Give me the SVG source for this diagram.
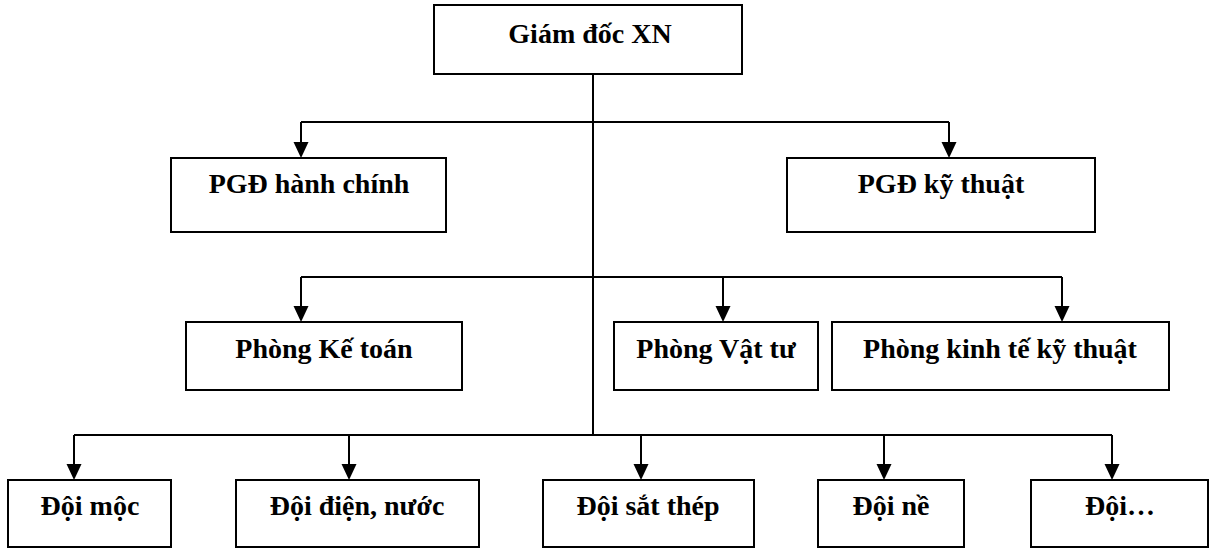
<svg xmlns="http://www.w3.org/2000/svg" width="1210" height="548" viewBox="0 0 1210 548">
<style>
.box{fill:#fff;stroke:#000;stroke-width:2}
.lbl{font-family:"Liberation Serif","Times New Roman",serif;font-weight:bold;font-size:28px;fill:#000;text-anchor:middle}
.ln{fill:none;stroke:#000;stroke-width:2}
</style>
<rect width="1210" height="548" fill="#fff"/>
<g id="connectors">
<path class="ln" d="M593,74 V435"/>
<path class="ln" d="M301,122 H949"/>
<path class="ln" d="M301,277 H1062"/>
<path class="ln" d="M74,435 H1112"/>
<g fill="#000">
<path class="ln" d="M301,122 V143"/><polygon points="293.5,142 308.5,142 301,158"/>
<path class="ln" d="M949,122 V143"/><polygon points="941.5,142 956.5,142 949,158"/>
<path class="ln" d="M301,277 V307"/><polygon points="293.5,306 308.5,306 301,322"/>
<path class="ln" d="M723,277 V307"/><polygon points="715.5,306 730.5,306 723,322"/>
<path class="ln" d="M1062,277 V307"/><polygon points="1054.5,306 1069.5,306 1062,322"/>
<path class="ln" d="M74,435 V465"/><polygon points="66.5,464 81.5,464 74,480"/>
<path class="ln" d="M349,435 V465"/><polygon points="341.5,464 356.5,464 349,480"/>
<path class="ln" d="M641,435 V465"/><polygon points="633.5,464 648.5,464 641,480"/>
<path class="ln" d="M884,435 V465"/><polygon points="876.5,464 891.5,464 884,480"/>
<path class="ln" d="M1112,435 V465"/><polygon points="1104.5,464 1119.5,464 1112,480"/>
</g>
</g>
<g id="giamdoc"><rect class="box" x="434" y="5" width="308" height="69"/><text class="lbl" x="590" y="43">Giám đốc XN</text></g>
<g id="pgd-hanhchinh"><rect class="box" x="171" y="158" width="275" height="74"/><text class="lbl" x="309" y="193">PGĐ hành chính</text></g>
<g id="pgd-kythuat"><rect class="box" x="787" y="158" width="308" height="74"/><text class="lbl" x="941" y="193">PGĐ kỹ thuật</text></g>
<g id="phong-ketoan"><rect class="box" x="186" y="322" width="276" height="68"/><text class="lbl" x="324" y="358">Phòng Kế toán</text></g>
<g id="phong-vattu"><rect class="box" x="614" y="322" width="204" height="68"/><text class="lbl" x="716" y="358">Phòng Vật tư</text></g>
<g id="phong-kinhte"><rect class="box" x="832" y="322" width="337" height="68"/><text class="lbl" x="1000" y="358">Phòng kinh tế kỹ thuật</text></g>
<g id="doi-moc"><rect class="box" x="8" y="480" width="163" height="67"/><text class="lbl" x="90" y="515">Đội mộc</text></g>
<g id="doi-diennuoc"><rect class="box" x="236" y="480" width="243" height="67"/><text class="lbl" x="357" y="515">Đội điện, nước</text></g>
<g id="doi-satthep"><rect class="box" x="543" y="480" width="211" height="67"/><text class="lbl" x="648" y="515">Đội sắt thép</text></g>
<g id="doi-ne"><rect class="box" x="818" y="480" width="146" height="67"/><text class="lbl" x="891" y="515">Đội nề</text></g>
<g id="doi-khac"><rect class="box" x="1031" y="480" width="177" height="67"/><text class="lbl" x="1120" y="515">Đội…</text></g>
</svg>
